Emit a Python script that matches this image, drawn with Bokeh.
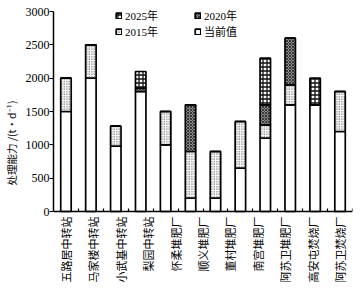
import numpy as np
from bokeh.plotting import figure
from bokeh.models import Range1d, FixedTicker, Legend, LegendItem
from bokeh.core.properties import value
from bokeh.embed import file_html
from bokeh.resources import INLINE

labels = ["五路居中转站", "马家楼中转站", "小武基中转站", "梨园中转站", "怀柔堆肥厂",
          "顺义堆肥厂", "董村堆肥厂", "南宫堆肥厂", "阿苏卫堆肥厂", "高安屯焚烧厂", "阿苏卫焚烧厂"]
current = [1500, 2000, 980, 1800, 1000, 200, 200, 650, 1100, 1600, 1600, 1200]
inc2015 = [500, 500, 300, 0, 500, 700, 700, 700, 200, 300, 0, 600]
inc2020 = [0, 0, 0, 50, 0, 700, 0, 0, 300, 700, 0, 0]
inc2025 = [0, 0, 0, 250, 0, 0, 0, 0, 700, 0, 400, 0]
y_ticks = [0, 500, 1000, 1500, 2000, 2500, 3000]
y_title = "处理能力 /(t·d⁻¹)"

n = len(current)
x = np.arange(n)
c = np.array(current, float)
a = np.array(inc2015, float)
b = np.array(inc2020, float)
d = np.array(inc2025, float)

SERIF = "'Liberation Serif', 'Times New Roman', 'Noto Sans CJK SC'"
CJK = "'Noto Sans CJK SC', 'Liberation Serif'"

FH = 285              # frame height in px, 15 data units per px
UPP = 15.0
y_end = 3000 + 11 * UPP
y_start = y_end - FH * UPP

p = figure(frame_width=299, frame_height=FH, x_range=Range1d(-0.5, 11.5), y_range=Range1d(y_start, y_end),
           output_backend="svg", toolbar_location=None,
           min_border_left=0, min_border_right=4, min_border_top=0, min_border_bottom=0)
p.outline_line_color = None
p.grid.visible = False
p.background_fill_color = "white"
p.border_fill_color = "white"

W = 0.42
LW = 1.7
r_cur = p.vbar(x=x, bottom=0, top=c, width=W, fill_color="white", line_color="black", line_width=LW)
r15 = p.vbar(x=x, bottom=c, top=c + a, width=W, fill_color="white", line_color="black", line_width=LW,
             hatch_pattern="dot", hatch_color="#333333", hatch_scale=2.5, hatch_weight=0.8)
r20 = p.vbar(x=x, bottom=c + a, top=c + a + b, width=W, fill_color="#8a8a8a", line_color="black", line_width=LW,
             hatch_pattern="diagonal_cross", hatch_color="#222222", hatch_scale=3, hatch_weight=0.8)
r25 = p.vbar(x=x, bottom=c + a + b, top=c + a + b + d, width=W, fill_color="white", line_color="black", line_width=LW,
             hatch_pattern="cross", hatch_color="#111111", hatch_scale=4, hatch_weight=1.3)

# x axis at y = 0 with inner boundary ticks only
lab_pos = [i * 1.1 for i in range(len(labels))]
p.xaxis.fixed_location = 0
p.xaxis.ticker = FixedTicker(ticks=[], minor_ticks=[k + 0.5 for k in range(n)])
p.xaxis.major_tick_line_color = None
p.xaxis.major_tick_in = 0
p.xaxis.major_tick_out = 0
p.xaxis.minor_tick_in = 3
p.xaxis.minor_tick_out = 0
p.xaxis.minor_tick_line_color = "black"
p.xaxis.minor_tick_line_width = 1.2
p.xaxis.axis_line_width = 1.5
p.xaxis.major_label_standoff = 0
p.xaxis.axis_label_standoff = 0

# category names, spread evenly under the axis
p.text(x=lab_pos, y=[0] * len(labels), text=labels, angle=np.pi / 2, y_offset=5,
       text_align="right", text_baseline="middle",
       text_font=value(CJK), text_font_size="11px", text_color="black")

# y axis
p.yaxis.bounds = (0, 3000)
p.yaxis.ticker = FixedTicker(ticks=y_ticks)
p.yaxis.minor_tick_line_color = None
p.yaxis.major_tick_in = 0
p.yaxis.major_tick_out = 4
p.yaxis.major_tick_line_width = 1.2
p.yaxis.axis_line_width = 1.5
p.yaxis.major_label_text_font = SERIF
p.yaxis.major_label_text_font_size = "12px"
p.yaxis.major_label_text_color = "black"
p.yaxis.major_label_standoff = 0
p.yaxis.axis_label = y_title
p.yaxis.axis_label_text_font = CJK
p.yaxis.axis_label_text_font_size = "10.5px"
p.yaxis.axis_label_text_font_style = "normal"
p.yaxis.axis_label_text_color = "black"
p.yaxis.axis_label_standoff = 4

def mk_legend(items, loc):
    return Legend(items=items, location=loc, padding=0, spacing=-5, margin=0,
                  glyph_width=7, glyph_height=7, label_height=13, label_standoff=3,
                  border_line_color=None, background_fill_alpha=0,
                  label_text_font=SERIF, label_text_font_size="11px", label_text_color="black")

lg1 = mk_legend([LegendItem(label="2025年", renderers=[r25]), LegendItem(label="2015年", renderers=[r15])], (62, 246))
lg2 = mk_legend([LegendItem(label="2020年", renderers=[r20]), LegendItem(label="当前值", renderers=[r_cur])], (141, 246))
p.add_layout(lg1, "center")
p.add_layout(lg2, "center")

open("out.html", "w").write(file_html(p, INLINE))
